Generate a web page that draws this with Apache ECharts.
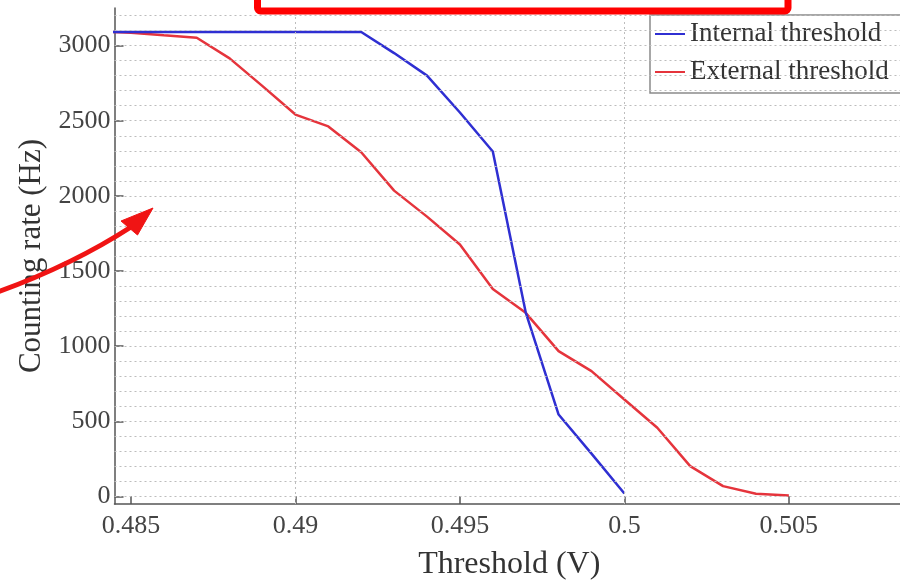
<!DOCTYPE html>
<html>
<head>
<meta charset="utf-8">
<title>Counting rate vs threshold</title>
<script src="https://cdn.jsdelivr.net/npm/echarts@6/dist/echarts.min.js"></script>
<style>
  html, body { margin: 0; padding: 0; background: #ffffff; }
  #chart { width: 900px; height: 583px; }
</style>
</head>
<body>
<div id="chart"></div>
<script>
// Threshold voltage (V) at each measurement step
const thresholdV = [0.484, 0.485, 0.486, 0.487, 0.488, 0.489, 0.490, 0.491, 0.492, 0.493, 0.494,
                    0.495, 0.496, 0.497, 0.498, 0.499, 0.500, 0.501, 0.502, 0.503, 0.504, 0.505];

// Counting rate (Hz) with the internal threshold
const internalHz = [3090, 3090, 3090, 3090, 3090, 3090, 3090, 3090, 3090, 2950, 2800,
                    2555, 2295, 1225, 545, 285, 20, null, null, null, null, null];

// Counting rate (Hz) with the external threshold
const externalHz = [3095, 3085, 3068, 3052, 2915, 2730, 2541, 2462, 2290, 2035, 1862,
                    1677, 1380, 1222, 967, 834, 645, 457, 202, 69, 18, 7];

// Tick labels
const xTicks = [0.485, 0.49, 0.495, 0.5, 0.505];
const yTicks = [0, 500, 1000, 1500, 2000, 2500, 3000];

// Dotted grid positions
const xGrid = [0.485, 0.49, 0.495, 0.5, 0.505];
const yGrid = [0, 100, 200, 300, 400, 500, 600, 700, 800, 900, 1000, 1100, 1200, 1300, 1400,
               1500, 1600, 1700, 1800, 1900, 2000, 2100, 2200, 2300, 2400, 2500, 2600, 2700,
               2800, 2900, 3000, 3100, 3200];

const serif = '"Liberation Serif", "DejaVu Serif", serif';
const axisGray = '#555555';

const chart = echarts.init(document.getElementById('chart'), null, { renderer: 'canvas' });

chart.setOption({
  animation: false,
  backgroundColor: '#ffffff',
  grid: { left: 114.5, top: 8, width: 789.5, height: 496, containLabel: false, outerBoundsMode: 'none' },
  xAxis: {
    type: 'value',
    min: 0.4845,
    max: 0.5085,
    name: 'Threshold (V)',
    nameLocation: 'middle',
    nameGap: 45,
    nameTextStyle: { fontFamily: serif, fontSize: 32, color: '#333333' },
    axisLine: { show: true, onZero: false, lineStyle: { color: axisGray, width: 1.5 } },
    axisTick: { show: true, inside: true, length: 8, customValues: xTicks,
                lineStyle: { color: axisGray, width: 1.5 } },
    axisLabel: { customValues: xTicks, fontFamily: serif, fontSize: 26, color: '#444444', margin: 9,
                 formatter: v => String(+(+v).toFixed(3)) },
    splitLine: { show: false }
  },
  yAxis: {
    type: 'value',
    min: -50,
    max: 3250,
    name: 'Counting rate (Hz)',
    nameLocation: 'middle',
    nameGap: 57,
    nameRotate: 90,
    nameTextStyle: { fontFamily: serif, fontSize: 31, color: '#333333' },
    axisLine: { show: true, onZero: false, lineStyle: { color: axisGray, width: 1.5 } },
    axisTick: { show: true, inside: true, length: 9, customValues: yTicks,
                lineStyle: { color: axisGray, width: 1.5 } },
    axisLabel: { customValues: yTicks, fontFamily: serif, fontSize: 26, color: '#444444', margin: 4,
                 formatter: v => String(Math.round(+v)) },
    splitLine: { show: false }
  },
  legend: {
    data: ['Internal threshold', 'External threshold'],
    orient: 'vertical',
    left: 650,
    top: 15,
    padding: [4, 24, 6, 5],
    itemGap: 8,
    itemWidth: 30,
    itemHeight: 2,
    icon: 'rect',
    backgroundColor: '#ffffff',
    borderColor: '#8a8a8a',
    borderWidth: 1.5,
    textStyle: { fontFamily: serif, fontSize: 27, color: '#333333', lineHeight: 30 }
  },
  series: [
    {
      name: 'grid',
      type: 'line',
      data: [],
      silent: true,
      z: 1,
      markLine: {
        silent: true,
        symbol: 'none',
        label: { show: false },
        lineStyle: { color: '#bdbdbd', type: [2, 3], width: 1 },
        emphasis: { disabled: true },
        data: xGrid.map(v => ({ xAxis: v })).concat(yGrid.map(v => ({ yAxis: v })))
      }
    },
    {
      name: 'External threshold',
      type: 'line',
      data: thresholdV.map((x, i) => [x, externalHz[i]]),
      showSymbol: false,
      z: 3,
      lineStyle: { color: '#e5343c', width: 2.5 },
      itemStyle: { color: '#e5343c' }
    },
    {
      name: 'Internal threshold',
      type: 'line',
      data: thresholdV.map((x, i) => [x, internalHz[i]]),
      showSymbol: false,
      connectNulls: false,
      z: 4,
      lineStyle: { color: '#2f2fd2', width: 2.5 },
      itemStyle: { color: '#2f2fd2' }
    }
  ],
  graphic: [
    {
      type: 'rect',
      z: 100,
      shape: { x: 257.5, y: -40, width: 530.5, height: 51, r: 3 },
      style: { fill: 'none', stroke: '#ff0000', lineWidth: 7 }
    },
    {
      type: 'bezierCurve',
      z: 100,
      shape: { x1: -5, y1: 293, cpx1: 71.5, cpy1: 265.5, x2: 131, y2: 227 },
      style: { fill: 'none', stroke: '#f01414', lineWidth: 5 }
    },
    {
      type: 'polygon',
      z: 100,
      shape: { points: [[153, 208], [121, 221], [137.5, 235]] },
      style: { fill: '#f01414', stroke: '#f01414', lineWidth: 1 }
    }
  ]
});
</script>
</body>
</html>
